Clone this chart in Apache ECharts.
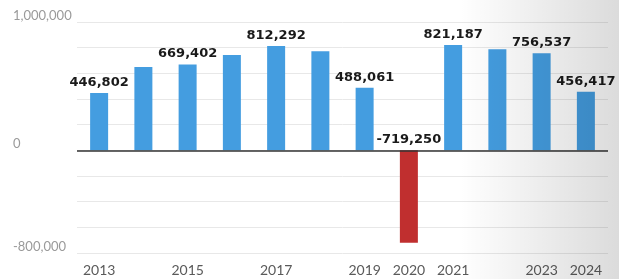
<!DOCTYPE html>
<html>
<head>
<meta charset="utf-8">
<script src="https://cdn.jsdelivr.net/npm/echarts@6/dist/echarts.min.js"></script>
<style>
  html, body { margin: 0; padding: 0; background: #fff; }
  #chart { width: 619px; height: 279px; }
</style>
</head>
<body>
<div id="chart"></div>
<script>
var years = ["2013", "2014", "2015", "2016", "2017", "2018", "2019", "2020", "2021", "2022", "2023", "2024"];
var values = [446802, 650000, 669402, 742000, 812292, 773000, 488061, -719250, 821187, 787000, 756537, 456417];
// which bars carry a value label
var labelled = [true, false, true, false, true, false, true, true, true, false, true, true];
// year labels shown under the axis
var xTickLabels = ["2013", "2015", "2017", "2019", "2020", "2021", "2023", "2024"];
var yTickLabels = [1000000, 0, -800000];

var chart = echarts.init(document.getElementById("chart"));

var barData = values.map(function (v, i) {
  return {
    value: v,
    itemStyle: { color: v < 0 ? "#c02f2f" : "#449de0" },
    label: { show: labelled[i] }
  };
});

var option = {
  animation: false,
  backgroundColor: "#fff",
  grid: { left: 77, right: 11, top: 22, bottom: 26 },
  xAxis: {
    type: "category",
    data: years,
    axisLine: { show: false },
    axisTick: { show: false },
    axisLabel: {
      interval: 0,
      margin: 10,
      color: "#5a5a5a",
      fontSize: 14,
      fontFamily: "Lato",
      formatter: function (v) {
        return xTickLabels.indexOf(v) >= 0 ? v : "";
      }
    }
  },
  yAxis: {
    type: "value",
    min: -800000,
    max: 1000000,
    interval: 200000,
    axisLine: { show: false },
    axisTick: { show: false },
    splitLine: { lineStyle: { color: "#e8e8e8", width: 1 } },
    axisLabel: {
      align: "left",
      verticalAlign: "bottom",
      margin: 64,
      color: "#9a9a9a",
      fontSize: 13,
      fontFamily: "Lato",
      formatter: function (v) {
        return yTickLabels.indexOf(v) >= 0 ? v.toLocaleString("en-US") : "";
      }
    }
  },
  series: [
    {
      type: "bar",
      data: barData,
      barWidth: 18,
      label: {
        position: "top",
        distance: 4,
        color: "#1a1a1a",
        fontSize: 13,
        fontWeight: "bold",
        fontFamily: "DejaVu Sans",
        formatter: function (p) {
          return p.value.toLocaleString("en-US");
        }
      },
      markLine: {
        silent: true,
        symbol: "none",
        label: { show: false },
        lineStyle: { color: "#333", width: 1.5, type: "solid" },
        data: [{ yAxis: 0 }]
      }
    }
  ],
  graphic: [
    {
      type: "rect",
      silent: true,
      z: 100,
      shape: { x: 460, y: 0, width: 159, height: 279 },
      style: {
        fill: new echarts.graphic.LinearGradient(0, 0, 1, 0, [
          { offset: 0, color: "rgba(0,0,0,0)" },
          { offset: 1, color: "rgba(0,0,0,0.14)" }
        ])
      }
    }
  ]
};

chart.setOption(option);
</script>
</body>
</html>
